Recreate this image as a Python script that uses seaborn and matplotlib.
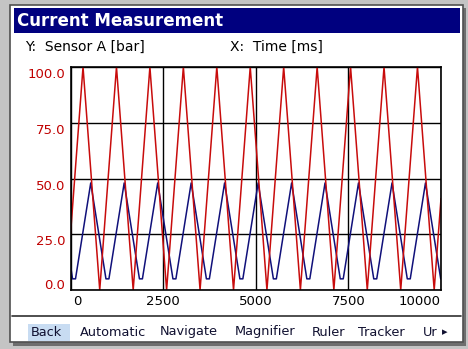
import pandas as pd
import seaborn as sns
import matplotlib.pyplot as plt
from matplotlib.patches import Rectangle
from matplotlib.lines import Line2D

# values (time in ms, pressure in bar)
red_t = [0, 338, 789, 1241, 1692, 2143, 2594, 3046, 3497, 3949, 4400, 4851,
         5302, 5754, 6205, 6657, 7108, 7559, 8010, 8462, 8913, 9365, 9816, 10000]
red_v = [25, 100, 0, 100, 0, 100, 0, 100, 0, 100, 0, 100,
         0, 100, 0, 100, 0, 100, 0, 100, 0, 100, 0, 41]

blue_t = [0, 55, 135, 546, 957, 1037, 1449, 1861, 1941, 2354, 2765, 2845,
          3257, 3668, 3748, 4159, 4572, 4652, 5065, 5476, 5556, 5968, 6379, 6459,
          6870, 7281, 7361, 7773, 8185, 8265, 8678, 9090, 9170, 9581, 9992, 10000]
blue_v = [11, 5, 5, 48, 5, 5, 48, 5, 5, 48, 5, 5,
          48, 5, 5, 48, 5, 5, 48, 5, 5, 48, 5, 5,
          48, 5, 5, 48, 5, 5, 48, 5, 5, 48, 5, 5]

xticks = [0, 2500, 5000, 7500, 10000]
yticks = [0, 25, 50, 75, 100]
ytick_labels = ['0.0', '25.0', '50.0', '75.0', '100.0']
buttons = ['Back', 'Automatic', 'Navigate', 'Magnifier', 'Ruler', 'Tracker', 'Ur']
button_x = [31, 80, 160, 235, 312, 358, 423]

data = pd.concat([
    pd.DataFrame({'t': blue_t, 'v': blue_v, 'sig': 'blue'}),
    pd.DataFrame({'t': red_t, 'v': red_v, 'sig': 'red'}),
])

sns.set_style('white')
plt.rcParams['font.family'] = ['DejaVu Sans']

W, H = 468, 349
fig = plt.figure(figsize=(W / 100, H / 100), dpi=100)
fig.patch.set_facecolor('#c4c4c4')


def box(x0, y0, x1, y1, **kw):
    # rectangle in screen pixels, origin top-left
    r = Rectangle((x0 / W, 1 - y1 / H), (x1 - x0) / W, (y1 - y0) / H,
                  transform=fig.transFigure, zorder=-5, **kw)
    fig.add_artist(r)


def hline(x0, x1, y, **kw):
    fig.add_artist(Line2D([x0 / W, x1 / W], [1 - y / H, 1 - y / H],
                          transform=fig.transFigure, **kw))


def txt(x, y, s, **kw):
    fig.text(x / W, 1 - y / H, s, **kw)


# window, shadow and title bar
box(13, 8, 466, 346, facecolor='#6e6e6e', edgecolor='none')
box(10, 5, 463, 342, facecolor='white', edgecolor='#505050', lw=1.2)
box(14, 8, 460, 33, facecolor='#00007f', edgecolor='none')
txt(17, 21, 'Current Measurement', color='white', fontsize=12,
    fontweight='bold', va='center')
txt(25, 47, 'Y:  Sensor A [bar]', fontsize=10, va='center', color='black')
txt(230, 47, 'X:  Time [ms]', fontsize=10, va='center', color='black')

# bottom menu
hline(12, 461, 315.5, color='#303030', lw=1.2)
box(28, 324, 70, 341, facecolor='#c8dcf2', edgecolor='none')
for name, bx in zip(buttons, button_x):
    txt(bx, 332, name, fontsize=9.3, va='center', color='#101030')
txt(442, 332, '\u25b8', fontsize=8, va='center', color='#101030')

# plot
ax = fig.add_axes([70.5 / W, 1 - 290 / H, (441 - 70.5) / W, (290 - 67) / H])
ax.set_zorder(5)
sns.lineplot(data=data, x='t', y='v', hue='sig',
             palette={'blue': '#10107a', 'red': '#c80c0c'},
             estimator=None, sort=False, legend=False, lw=1.1, ax=ax)
ax.set_xlim(0, 10000)
ax.set_ylim(0, 100)
ax.set_xticks(xticks)
ax.set_yticks(yticks)
ax.tick_params(length=0, labelbottom=False, labelleft=False)
ax.grid(True, color='black', lw=1.0)
ax.set_axisbelow(True)
for s in ax.spines.values():
    s.set_color('black')
    s.set_linewidth(1.2)
ax.set_xlabel('')
ax.set_ylabel('')

# tick labels kept inside the plot width / height like the device does
xt = ax.get_xaxis_transform()
for i, v in enumerate(xticks):
    ha = 'left' if i == 0 else ('right' if i == len(xticks) - 1 else 'center')
    off = 60 if i == 0 else 0
    ax.text(v + off, -0.05, str(v), transform=xt, ha=ha, va='center',
            fontsize=9.5, color='black', clip_on=False)
yt = ax.get_yaxis_transform()
for v, lab in zip(yticks, ytick_labels):
    if v == 0:
        va, yy = 'bottom', v - 1.0
    else:
        va, yy = 'top', v - 0.5
    ax.text(-0.014, yy, lab, transform=yt, ha='right', va=va,
            fontsize=9.5, color='#c00000', clip_on=False)

plt.savefig('out.png', dpi=100, facecolor=fig.get_facecolor())
